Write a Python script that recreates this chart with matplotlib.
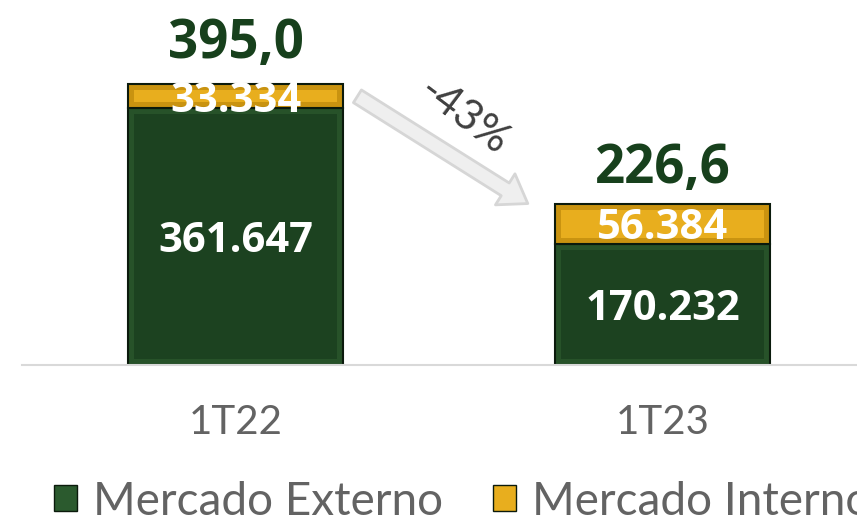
import matplotlib.pyplot as plt
from matplotlib.patches import Patch, FancyArrowPatch

# data
periods = ['1T22', '1T23']
externo = [361.647, 170.232]
interno = [33.334, 56.384]
totais = ['395,0', '226,6']
externo_lbl = ['361.647', '170.232']
interno_lbl = ['33.334', '56.384']
variacao = '-43%'

verde = '#1c4220'
verde_borda = '#275229'
ouro = '#e8ae1e'
ouro_borda = '#c99310'
cinza = '#636363'

fig = plt.figure(figsize=(8.57, 5.26), dpi=100)
ax = fig.add_axes([22 / 857, 1 - 365 / 526, 1 - 22 / 857, 365 / 526])

x = list(range(len(periods)))
w = 0.504
inset = 8  # bevel size in data units (~6 px)

# outer bars (bevel colour) with dark outline
ax.bar(x, externo, width=w, color=verde_borda, edgecolor='#0b1a0c', linewidth=1.5)
ax.bar(x, interno, width=w, bottom=externo, color=ouro_borda, edgecolor='#0b1a0c', linewidth=1.5)
# inner faces
ax.bar(x, [v - 2 * inset for v in externo], width=w - 0.03, bottom=inset, color=verde, linewidth=0)
ax.bar(x, [v - 2 * inset for v in interno], width=w - 0.03,
       bottom=[e + inset for e in externo], color=ouro, linewidth=0)

ax.set_xlim(-0.5, 1 + (857 - 662.5) / 427)
ax.set_ylim(0, 365 / 0.711)

for i in x:
    top = externo[i] + interno[i]
    ax.text(i, externo[i] / 2, externo_lbl[i], ha='center', va='center_baseline', color='white',
            fontsize=30, fontweight='bold', family='Open Sans')
    ax.text(i, externo[i] + interno[i] / 2, interno_lbl[i], ha='center', va='center_baseline', color='white',
            fontsize=30, fontweight='bold', family='Open Sans')
    ax.text(i, top + 57 - 8 * i, totais[i], ha='center', va='center', color='#17401c',
            fontsize=38, fontweight='bold', family='Open Sans')

# arrow between bars
arr = FancyArrowPatch((0.28, 380), (0.69, 225),
                      arrowstyle='simple,head_width=2.2,head_length=1.6,tail_width=0.9',
                      mutation_scale=12, facecolor='#efefef', edgecolor='#d6d6d6', linewidth=2)
ax.add_patch(arr)
ax.text(0.535, 350, variacao, rotation=-37, ha='center', va='center', color='#404040',
        fontsize=31, family='Lato')

ax.set_xticks(x)
ax.set_xticklabels(periods, fontsize=29, color=cinza, family='Lato')
ax.tick_params(axis='x', length=0, pad=28)
ax.set_yticks([])
for s in ['top', 'right', 'left']:
    ax.spines[s].set_visible(False)
ax.spines['bottom'].set_color('#d9d9d9')
ax.spines['bottom'].set_linewidth(1.5)

handles = [Patch(facecolor='#2b5a2e', edgecolor='#0b1a0c', label='Mercado Externo'),
           Patch(facecolor=ouro, edgecolor='#0b1a0c', label='Mercado Interno')]
fig.legend(handles=handles, loc='lower left', bbox_to_anchor=(0.015, -0.072), ncol=2, frameon=False,
           prop={'family': 'Lato', 'size': 33}, labelcolor=cinza,
           handlelength=0.5, handleheight=0.5, handletextpad=0.35, columnspacing=1.1)

fig.savefig('out.png', dpi=100)
